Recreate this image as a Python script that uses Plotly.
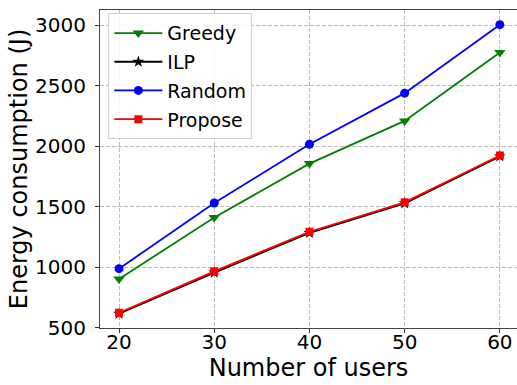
import plotly.graph_objects as go

users = [20, 30, 40, 50, 60]
greedy = [902, 1410, 1855, 2208, 2773]
ilp = [615, 955, 1282, 1527, 1915]
random_ = [987, 1530, 2015, 2437, 3003]
propose = [623, 965, 1292, 1535, 1922]

series = [
    ("Greedy", greedy, "green", "triangle-down", 10),
    ("ILP", ilp, "black", "star", 9),
    ("Random", random_, "blue", "circle", 9),
    ("Propose", propose, "red", "square", 8),
]

fig = go.Figure()
for name, vals, color, sym, size in series:
    fig.add_trace(go.Scatter(
        x=users, y=vals, name=name, mode="lines+markers", legendgroup=name,
        line=dict(color=color, width=1.8),
        marker=dict(symbol=sym, size=size, color=color),
    ))

font = "DejaVu Sans"
axis_common = dict(
    showgrid=True, gridcolor="#bdbdbd", griddash="4px,2px", gridwidth=0.8,
    showline=True, linecolor="#444444", linewidth=1.2, mirror=True,
    ticks="outside", ticklen=4, tickcolor="#333333",
    tickfont=dict(family=font, size=20, color="black"),
    zeroline=False,
)

fig.update_layout(
    width=517, height=385,
    margin=dict(l=100, r=0, t=10, b=57),
    paper_bgcolor="white", plot_bgcolor="white",
    font=dict(family=font, color="black"),
    xaxis=dict(range=[18, 61.8], tickvals=users, ticklabelstandoff=-8,
               title=dict(text="Number of users", font=dict(family=font, size=24), standoff=5),
               **axis_common),
    yaxis=dict(range=[497, 3124], tickvals=[500, 1000, 1500, 2000, 2500, 3000],
               ticklabelstandoff=5,
               title=dict(text="Energy consumption (J)", font=dict(family=font, size=24), standoff=0),
               **axis_common),
    legend=dict(x=0.02, y=0.99, xanchor="left", yanchor="top",
                bgcolor="rgba(255,255,255,0.85)", bordercolor="#d0d0d0", borderwidth=1,
                font=dict(family=font, size=19), itemwidth=48, tracegroupgap=1),
    showlegend=True,
)

fig.write_html("out.html")
